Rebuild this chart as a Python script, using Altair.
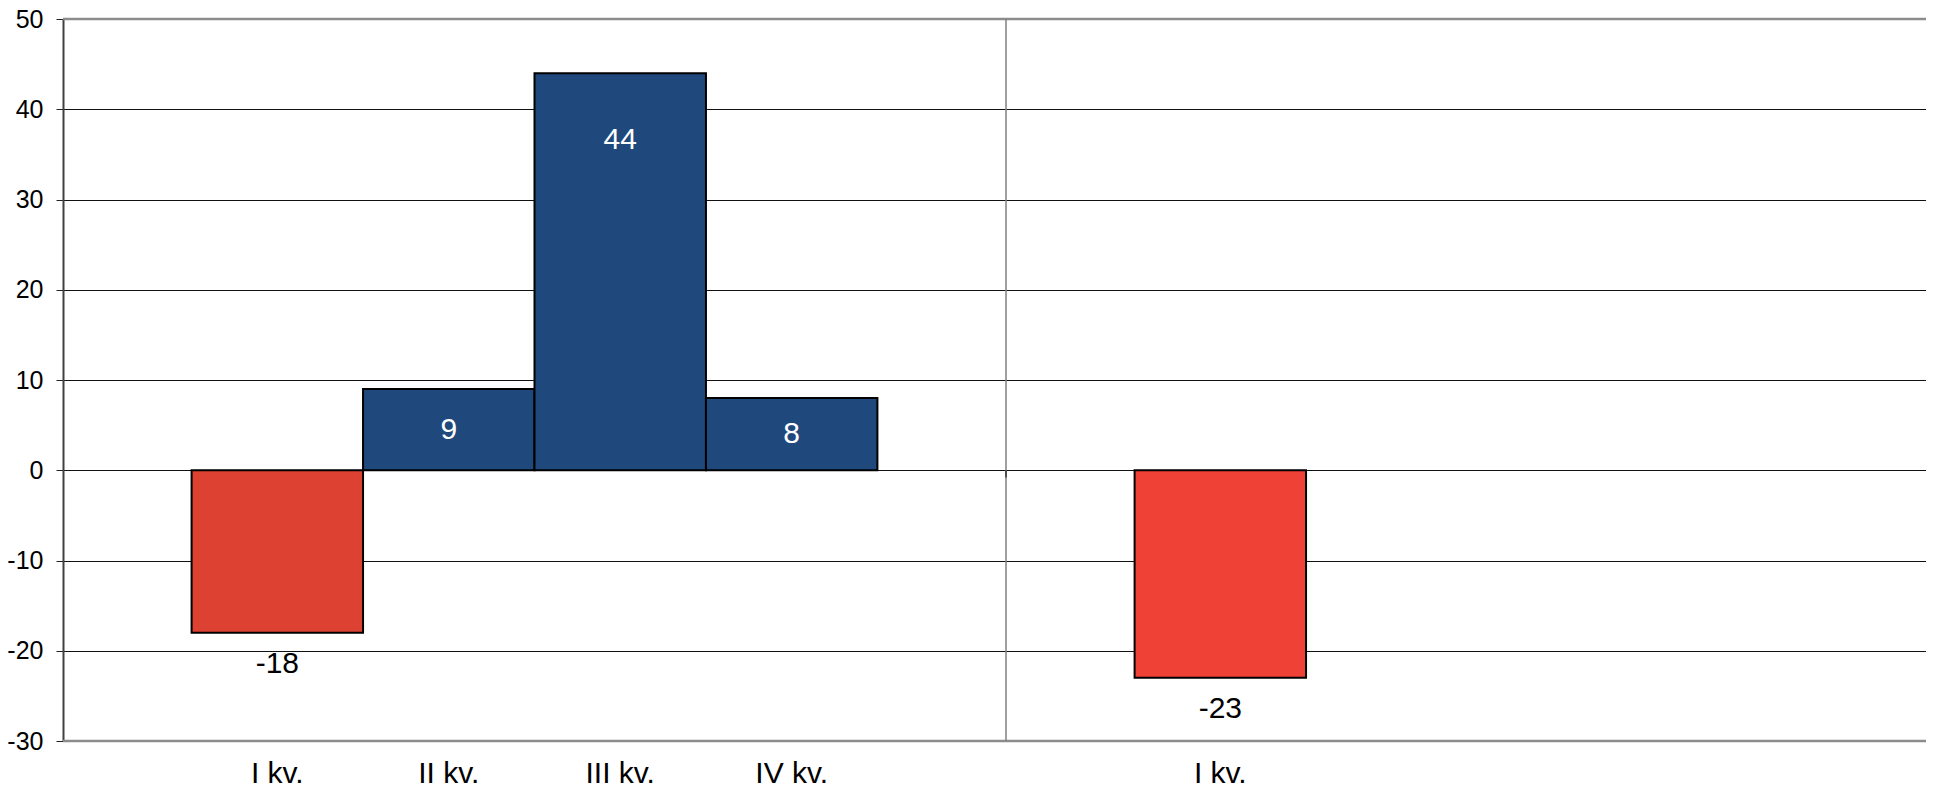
import altair as alt
import pandas as pd

# ---- data ----
quarters = ["I kv.", "II kv.", "III kv.", "IV kv.", "I kv."]
group = [0, 0, 0, 0, 1]          # category (year) index
slot = [0, 1, 2, 3, 0]           # series index within category
values = [-18, 9, 44, 8, -23]
colors = ["#DC4132", "#1F497D", "#1F497D", "#1F497D", "#EF4136"]
y_ticks = [-30, -20, -10, 0, 10, 20, 30, 40, 50]

df = pd.DataFrame({"quarter": quarters, "group": group, "slot": slot,
                   "value": values, "color": colors})

# ---- layout / style ----
W, H = 1863, 722
CAT_PX = 943
GAP = 1.5
XMAX = W / CAT_PX
FONT = "Liberation Sans"

xs = alt.Scale(domain=[0, XMAX], nice=False, zero=False)
ys = alt.Scale(domain=[-30, 50], nice=False, zero=False)

yaxis = alt.Axis(
    values=y_ticks, grid=True, gridColor="#111111", gridWidth=1,
    domainColor="#404040", domainWidth=2, tickColor="#222222",
    tickSize=7, tickWidth=1, labelFont=FONT, labelFontSize=25,
    labelColor="black", labelPadding=13, title=None,
    labelExpr="datum.value + ''")

base = alt.Chart(df).transform_calculate(
    x0=f"datum.group + ({GAP/2} + datum.slot)/(4+{GAP})",
).transform_calculate(
    x1=f"datum.x0 + 1/(4+{GAP})",
).transform_calculate(
    xc="(datum.x0 + datum.x1)/2",
    ly="datum.value > 0 ? max(datum.value/2, datum.value - 7.4) : datum.value",
    vt="datum.value + ''",
)

bars = base.mark_rect(stroke="black", strokeWidth=2).encode(
    x=alt.X("x0:Q", scale=xs, axis=None),
    x2="x1:Q",
    y=alt.Y("value:Q", scale=ys, axis=yaxis),
    y2=alt.Y2Datum(0),
    fill=alt.Fill("color:N", scale=None),
)

border = alt.Chart(pd.DataFrame({"b": [50, -30]})).mark_rule(
    color="#8C8C8C", strokeWidth=2.5).encode(
    y=alt.Y("b:Q", scale=ys, axis=yaxis))

sep = alt.Chart(pd.DataFrame({"s": [1]})).mark_rule(
    color="#808080", strokeWidth=1.5).encode(
    x=alt.X("s:Q", scale=xs, axis=None))

sep_tick = alt.Chart(pd.DataFrame({"s": [1], "t0": [0], "t1": [-0.8]})).mark_rule(
    color="#333333", strokeWidth=1.5).encode(
    x=alt.X("s:Q", scale=xs, axis=None),
    y=alt.Y("t0:Q", scale=ys, axis=yaxis),
    y2="t1:Q")

pos_labels = base.transform_filter("datum.value > 0").mark_text(
    font=FONT, fontSize=30, color="white", baseline="middle").encode(
    x=alt.X("xc:Q", scale=xs, axis=None),
    y=alt.Y("ly:Q", scale=ys, axis=yaxis),
    text=alt.Text("vt:N"),
)

neg_labels = base.transform_filter("datum.value < 0").mark_text(
    font=FONT, fontSize=30, color="black", baseline="middle", dy=31).encode(
    x=alt.X("xc:Q", scale=xs, axis=None),
    y=alt.Y("value:Q", scale=ys, axis=yaxis),
    text=alt.Text("vt:N"),
)

x_labels = base.mark_text(
    font=FONT, fontSize=30, color="black", baseline="middle", dy=33).encode(
    x=alt.X("xc:Q", scale=xs, axis=None),
    y=alt.YDatum(-30, scale=ys, axis=yaxis),
    text="quarter:N",
)

chart = alt.layer(bars, border, sep, sep_tick, pos_labels, neg_labels, x_labels).properties(
    width=W, height=H,
    autosize="none",
    padding={"left": 55, "top": 11, "right": 0, "bottom": 48},
).configure_view(stroke=None)

chart.save("out.html", embed_options={"renderer": "svg", "actions": False})
